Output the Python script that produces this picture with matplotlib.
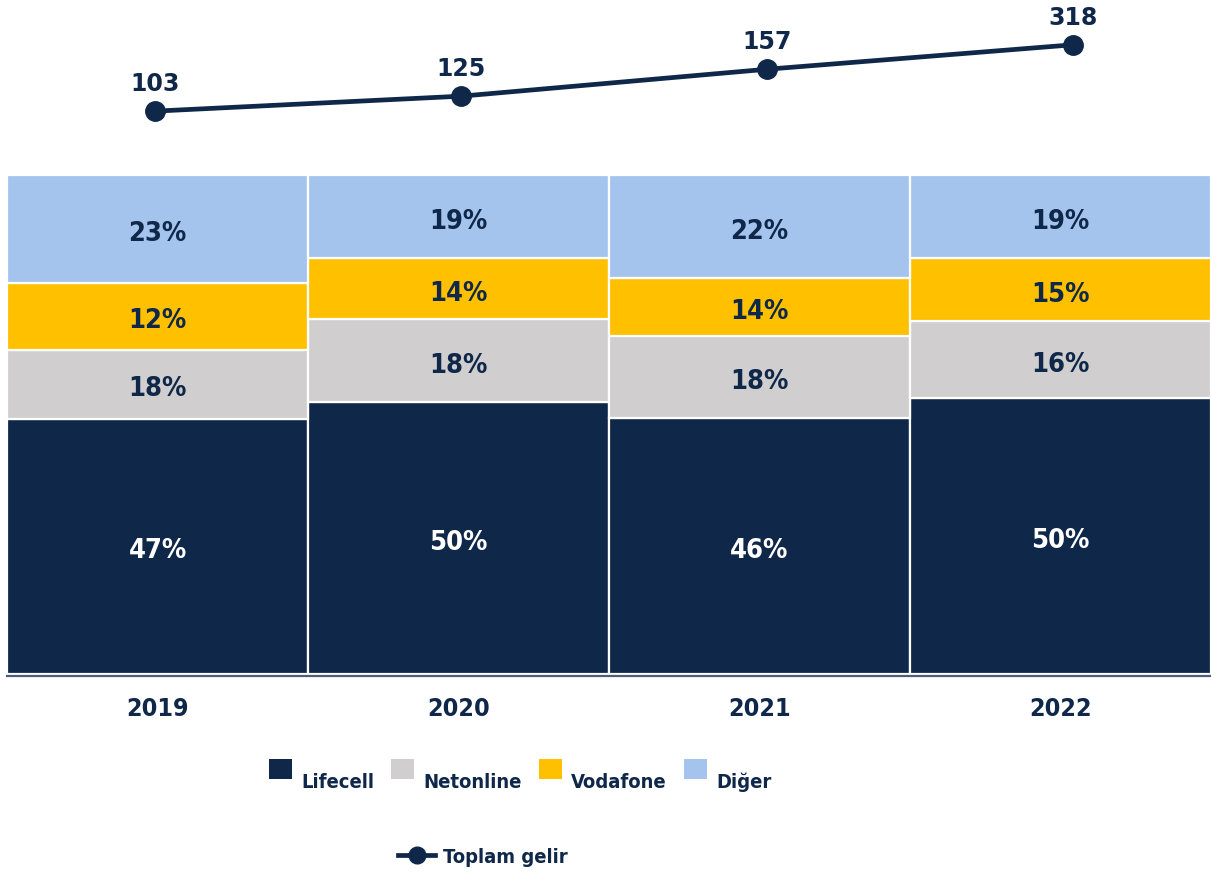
import matplotlib
matplotlib.use("Agg")
import matplotlib.pyplot as plt
from matplotlib.patches import Rectangle
from matplotlib.lines import Line2D
from matplotlib.legend_handler import HandlerPatch
from matplotlib import font_manager

# ---------------- data ----------------
years = ["2019", "2020", "2021", "2022"]
series = ["Lifecell", "Netonline", "Vodafone", "Diğer"]
# segment heights as drawn (share of bar height, %)
lifecell = [51.2, 54.5, 51.3, 55.4]
netonline = [13.8, 16.7, 16.4, 15.3]
vodafone = [13.4, 12.1, 11.7, 12.6]
diger = [21.6, 16.7, 20.6, 16.7]
# printed labels
lifecell_labels = ["47%", "50%", "46%", "50%"]
netonline_labels = ["18%", "18%", "18%", "16%"]
vodafone_labels = ["12%", "14%", "14%", "15%"]
diger_labels = ["23%", "19%", "22%", "19%"]
# total revenue line
total_revenue = [103, 125, 157, 318]
total_plot_level = [112.8, 115.8, 121.2, 126.1]  # drawn height (same scale as bars)
line_label = "Toplam gelir"

# ---------------- style ----------------
NAVY = "#0F2749"
GREY = "#D0CECE"
YELLOW = "#FFC000"
LIGHTBLUE = "#A4C4EE"
colors = [NAVY, GREY, YELLOW, LIGHTBLUE]
label_colors = ["white", NAVY, NAVY, NAVY]


def condensed_font():
    names = font_manager.fontManager.ttflist
    for f in names:
        if f.name == "DejaVu Sans Condensed":
            return dict(family="DejaVu Sans Condensed")
    for f in names:
        if f.name == "DejaVu Sans" and f.stretch == "condensed":
            return dict(family="DejaVu Sans", stretch="condensed")
    return dict(family="DejaVu Sans")


COND = condensed_font()

W, H = 1211, 879
fig = plt.figure(figsize=(W / 100, H / 100), dpi=100)
rect = [7 / W, (H - 675) / H, 1204 / W, 675 / H]
ymax = 675 / 4.99

ax = fig.add_axes(rect)
ax.set_xlim(-0.5, 3.5)
ax.set_ylim(0, ymax)
ax.set_frame_on(False)
ax.set_yticks([])

x = list(range(len(years)))
stack = [lifecell, netonline, vodafone, diger]
labels = [lifecell_labels, netonline_labels, vodafone_labels, diger_labels]
bottom = [0.0] * len(years)
for vals, labs, col, tcol in zip(stack, labels, colors, label_colors):
    ax.bar(x, vals, bottom=bottom, width=1.0, color=col,
           edgecolor="white", linewidth=1.6)
    for xi, v, b, lab in zip(x, vals, bottom, labs):
        ax.annotate(lab, (xi, b + v / 2), xytext=(0, -3), textcoords="offset points",
                    ha="center", va="center", color=tcol, fontsize=19.5,
                    fontweight="bold", **COND)
    bottom = [b + v for b, v in zip(bottom, vals)]

ax.axhline(-0.35, color="#4A5E7E", lw=1.6, clip_on=False)

ax.set_xticks(x)
ax.set_xticklabels(years, color=NAVY, fontsize=18, fontweight="bold", **COND)
ax.tick_params(axis="x", length=0, pad=16)

# line on its own overlay axes
ax2 = fig.add_axes(rect, frameon=False)
ax2.set_xlim(-0.485, 3.45)
ax2.set_ylim(0, ymax)
ax2.axis("off")
ax2.plot(x, total_plot_level, color=NAVY, lw=3.4, marker="o", ms=14,
         solid_capstyle="round")
for xi, lvl, val in zip(x, total_plot_level, total_revenue):
    ax2.annotate(str(val), (xi, lvl), xytext=(0, 15), textcoords="offset points",
                 ha="center", va="baseline", color=NAVY, fontsize=17,
                 fontweight="bold", family="DejaVu Sans")


# legend squares sit a bit higher than the text
def raised_square(legend, orig_handle, xdescent, ydescent, width, height, fontsize):
    return Rectangle((-xdescent, -ydescent + 8), width, height)


handles = [Rectangle((0, 0), 1, 1, facecolor=c, edgecolor="none") for c in colors]
prop = dict(weight="bold", size=14.5, **COND)
leg1 = fig.legend(handles, series, loc="center", bbox_to_anchor=(520 / W, 1 - 782 / H),
                  ncol=4, frameon=False, prop=prop, labelcolor=NAVY,
                  handlelength=1.15, handleheight=1.15, handletextpad=0.45,
                  columnspacing=0.85,
                  handler_map={Rectangle: HandlerPatch(patch_func=raised_square)})

line_handle = Line2D([0], [0], color=NAVY, lw=3.4, marker="o", ms=12)
leg2 = fig.legend([line_handle], [line_label], loc="center",
                  bbox_to_anchor=(483 / W, 1 - 858 / H), frameon=False, prop=prop,
                  labelcolor=NAVY, handlelength=1.8, handletextpad=0.4)

fig.savefig("out.png", dpi=100, facecolor="white")
